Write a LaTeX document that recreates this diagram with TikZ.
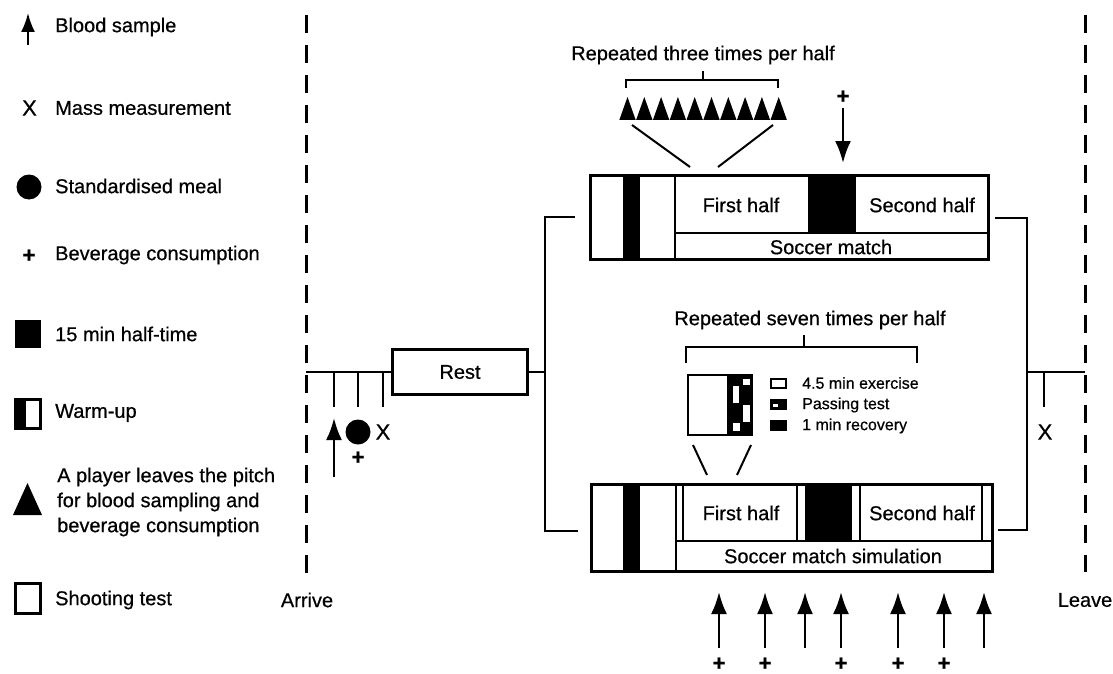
\documentclass[tikz,border=0pt]{standalone}
\usepackage{fontspec}
\setmainfont{Liberation Sans}[FakeBold=0.6]
\usetikzlibrary{arrows.meta}
\begin{document}
\begin{tikzpicture}[x=1pt,y=-1pt,
  ln/.style={line width=2.5pt},
  thinln/.style={line width=2pt},
  box/.style={draw, line width=3pt, inner sep=0pt, fill=none},
  lbl/.style={font=\fontsize{20}{25}\selectfont, inner sep=0pt},
  legtxt/.style={lbl, anchor=west},
  xmark/.style={font=\fontsize{22}{25}\selectfont, inner sep=0pt},
  sml/.style={font=\fontsize{16}{19}\selectfont, inner sep=0pt, anchor=west},
  plus/.style={font=\fontsize{22}{24}\selectfont\bfseries, inner sep=0pt},
  arr/.style={line width=2.5pt, -{Latex[length=22pt,width=16pt]}},
  legarr/.style={line width=2pt, -{Latex[length=19pt,width=14pt]}},
  dashln/.style={line width=3pt, dash pattern=on 18pt off 12pt},
]
\useasboundingbox (0,0) rectangle (1113,674);

% ---------------- Legend ----------------
\coordinate (lb0) at (28,45);
\coordinate (lb1) at (28,13);
\draw[legarr] (lb0) -- (lb1);
\node[legtxt] (t1) at (55,27) {Blood sample};

\node[xmark] (lx) at (29.5,108) {X};
\node[legtxt] (t2) at (55,108) {Mass measurement};

\fill (29,187) circle (12.5);
\node[legtxt] (t3) at (55,186) {Standardised meal};

\node[plus] (lp) at (29,256) {+};
\node[legtxt] (t4) at (55,255) {Beverage consumption};

\fill (15,320) rectangle (41,348);
\node[legtxt] (t5) at (55,334) {15 min half-time};

\fill (14,398) rectangle (26,430);
\draw[line width=3pt] (15.5,399.5) rectangle (40.5,428.5);
\node[legtxt] (t6) at (55,413) {Warm-up};

\fill (13,515) -- (42,515) -- (27.5,483) -- cycle;
\node[legtxt, align=left] (t7) at (57,502) {A player leaves the pitch\\for blood sampling and\\beverage consumption};

\draw[line width=3pt] (15.5,583.5) rectangle (40.5,613.5);
\node[legtxt] (t8) at (55,600) {Shooting test};

% ---------------- Arrive / Leave ----------------
\coordinate (arrTop) at (306,15);
\coordinate (arrBot) at (306,578);
\draw[dashln] (arrTop) -- (arrBot);
\node[lbl] (arrive) at (307,600) {Arrive};

\coordinate (lvTop) at (1085,15);
\coordinate (lvBot) at (1085,572);
\draw[dashln] (lvTop) -- (lvBot);
\node[lbl] (leave) at (1085,600) {Leave};

% ---------------- Pre-match ----------------
\node[draw, line width=2.5pt, minimum width=135, minimum height=45, lbl] (rest) at (460,372) {Rest};
\coordinate (m0) at (306,372);
\draw[ln] (m0) -- (rest.west);
\foreach \xx/\nm in {334/ta,358/tb,383/tc}{
  \coordinate (\nm0) at (\xx,372);
  \coordinate (\nm1) at (\xx,407);
  \draw[ln] (\nm0) -- (\nm1);
}
\coordinate (pa0) at (334,477);
\coordinate (pa1) at (334,418);
\draw[arr] (pa0) -- (pa1);
\fill (358,432) circle (12.5);
\node[xmark] (px) at (383,432) {X};
\node[plus] (pp) at (358,458) {+};

% ---------------- Bracket to the two conditions ----------------
\coordinate (brM) at (545,372);
\coordinate (brT) at (545,217);
\coordinate (brB) at (545,531);
\coordinate (stT) at (575,217);
\coordinate (stB) at (578,531);
\draw[ln] (rest.east) -- (brM);
\draw[ln] (stT) -- (brT) -- (brB) -- (stB);

% ---------------- Soccer match ----------------
\node[box, minimum width=398, minimum height=84] (match) at (789,217) {};
\fill (623,175) rectangle (640,259);
\fill (808,175) rectangle (856,233);
\draw[ln] (675,175) -- (675,259);
\draw[ln] (675,233) -- (988,233);
\node[lbl] (mfh) at (741,205) {First half};
\node[lbl] (msh) at (922,205) {Second half};
\node[lbl] (mlab) at (831,247) {Soccer match};

% triangles
\foreach \i in {0,...,9}{
  \pgfmathsetmacro{\cx}{627.5+\i*16.8}
  \fill (\cx-8.2,120) -- (\cx+8.2,120) -- (\cx,97) -- cycle;
}
\coordinate (tbL) at (626,88);
\coordinate (tbR) at (778,88);
\coordinate (tbM) at (703,80);
\coordinate (tbMt) at (703,71);
\draw[ln] (tbL) -- (626,80) -- (778,80) -- (tbR);
\draw[ln] (tbM) -- (tbMt);
\node[lbl] (rep3) at (703,55) {Repeated three times per half};
\coordinate (z1a) at (632,125); \coordinate (z1b) at (690,167);
\coordinate (z2a) at (773,125); \coordinate (z2b) at (718,167);
\draw[thinln] (z1a) -- (z1b);
\draw[thinln] (z2a) -- (z2b);

\node[plus] (htp) at (843,97) {+};
\coordinate (hta) at (843,108);
\coordinate (htb) at (843,163);
\draw[arr] (hta) -- (htb);

% ---------------- Soccer match simulation ----------------
\node[box, minimum width=401, minimum height=87] (sim) at (791.5,527.5) {};
\fill (623,484) rectangle (640,571);
\fill (805,484) rectangle (852,541);
\draw[ln] (676,484) -- (676,571);
\draw[ln] (676,541) -- (993,541);
\draw[thinln] (683,484) -- (683,541);
\draw[thinln] (797,484) -- (797,541);
\draw[thinln] (860,484) -- (860,541);
\draw[thinln] (982,484) -- (982,541);
\node[lbl] (sfh) at (741,513) {First half};
\node[lbl] (ssh) at (922,513) {Second half};
\node[lbl] (slab) at (833,556) {Soccer match simulation};

\coordinate (sbL) at (686,363);
\coordinate (sbR) at (917,363);
\coordinate (sbM) at (804,347);
\coordinate (sbMt) at (804,335);
\draw[ln] (sbL) -- (686,347) -- (917,347) -- (sbR);
\draw[ln] (sbM) -- (sbMt);
\node[lbl] (rep7) at (810,320) {Repeated seven times per half};

% block detail
\fill (728,375) rectangle (752,435);
\fill[white] (743,379) rectangle (750,385);
\fill[white] (733,386) rectangle (738.5,403);
\fill[white] (743,405) rectangle (750,422);
\fill[white] (733,423) rectangle (740,431);
\draw[line width=2.5pt] (688,375) rectangle (752,435);
\draw[thinln] (728,375) -- (728,435);

\draw[line width=2pt] (771,379) rectangle (786,388);
\node[sml] (s1) at (802,383) {4.5 min exercise};
\fill (770,399) rectangle (787,410);
\fill[white] (773,404) rectangle (778,407);
\node[sml] (s2) at (802,405) {Passing test};
\fill (770,420) rectangle (787,431);
\node[sml] (s3) at (802,426) {1 min recovery};

\coordinate (y1a) at (693,445); \coordinate (y1b) at (707,475);
\coordinate (y2a) at (751,445); \coordinate (y2b) at (737,475);
\draw[thinln] (y1a) -- (y1b);
\draw[thinln] (y2a) -- (y2b);

% bottom arrows
\foreach \xx/\nm in {719/ba,765/bb,805/bc,841/bd,898/be,944/bf,984/bg}{
  \coordinate (\nm0) at (\xx,648);
  \coordinate (\nm1) at (\xx,592);
  \draw[arr] (\nm0) -- (\nm1);
}
\foreach \xx/\nm in {719/pa,765/pb,841/pd,898/pe,944/pf}{
  \node[plus] (q\nm) at (\xx,664) {+};
}

% ---------------- Right side ----------------
\coordinate (rT) at (1027,218);
\coordinate (rB) at (1027,530);
\coordinate (rsT) at (995,218);
\coordinate (rsB) at (998,530);
\coordinate (rM) at (1027,372);
\coordinate (rL) at (1085,372);
\draw[ln] (rsT) -- (rT) -- (rB) -- (rsB);
\draw[ln] (rM) -- (rL);
\coordinate (rx0) at (1044,372);
\coordinate (rx1) at (1044,407);
\draw[ln] (rx0) -- (rx1);
\node[xmark] (rx) at (1045,432) {X};
\end{tikzpicture}
\end{document}
